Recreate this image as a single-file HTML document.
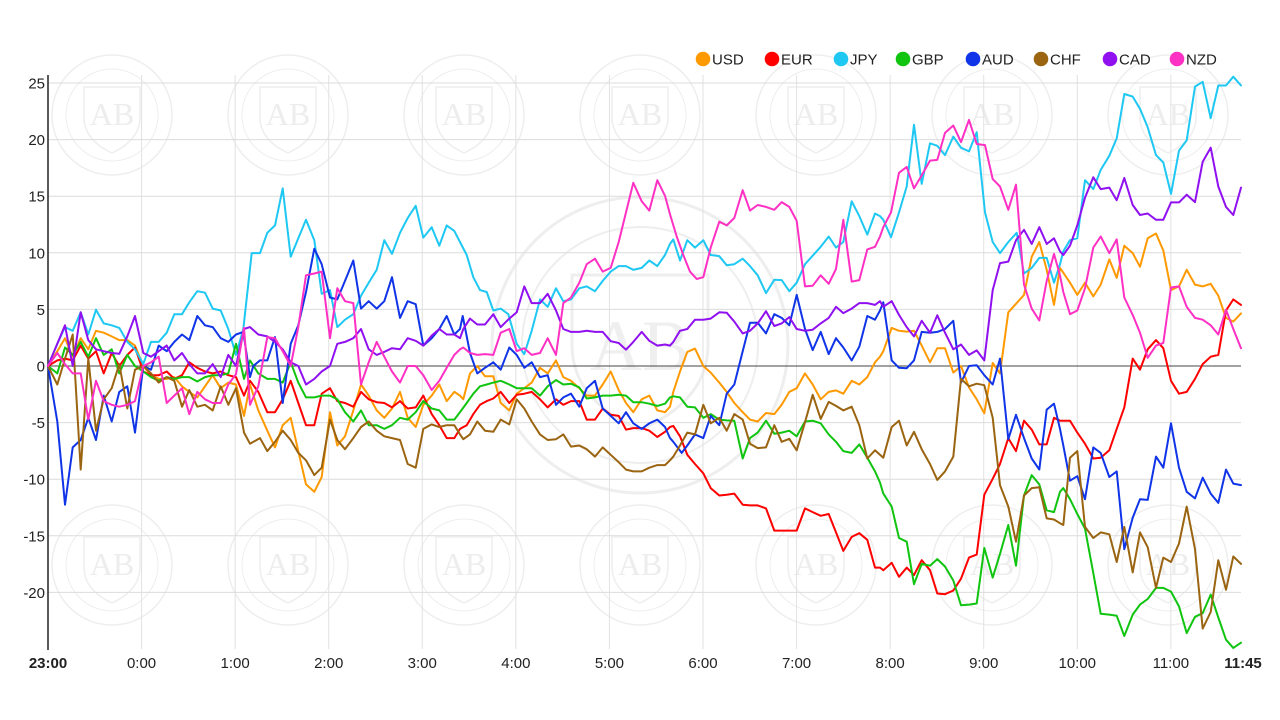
<!DOCTYPE html>
<html>
<head>
<meta charset="utf-8">
<style>
html,body{margin:0;padding:0;background:#fff;}
svg{display:block;}
text{font-family:"Liberation Sans",Arial,sans-serif;}
</style>
</head>
<body>
<svg id="c" width="1280" height="720" viewBox="0 0 1280 720" xmlns="http://www.w3.org/2000/svg">
<rect width="1280" height="720" fill="#fff"/>
<g id="wm" fill="none" stroke="#eeeeee" stroke-width="1.5"></g>
<g id="grid"></g>
<g id="series" fill="none" stroke-width="2" stroke-linejoin="round" stroke-linecap="round"></g>
<g id="labels" font-size="15" fill="#222"></g>
<g id="legend" font-size="15" fill="#222">
  <circle cx="703" cy="59" r="7.3" fill="#ff9900"/><text x="712" y="64.5">USD</text>
  <circle cx="772" cy="59" r="7.3" fill="#ff0000"/><text x="781" y="64.5">EUR</text>
  <circle cx="841" cy="59" r="7.3" fill="#1ec8f2"/><text x="850" y="64.5">JPY</text>
  <circle cx="903" cy="59" r="7.3" fill="#10c410"/><text x="912" y="64.5">GBP</text>
  <circle cx="973" cy="59" r="7.3" fill="#1034e8"/><text x="982" y="64.5">AUD</text>
  <circle cx="1041" cy="59" r="7.3" fill="#9a6410"/><text x="1050" y="64.5">CHF</text>
  <circle cx="1110" cy="59" r="7.3" fill="#9010f0"/><text x="1119" y="64.5">CAD</text>
  <circle cx="1177" cy="59" r="7.3" fill="#ff30c4"/><text x="1186" y="64.5">NZD</text>
</g>
</svg>
<script>
(function(){
var NS="http://www.w3.org/2000/svg";
function el(tag,attrs,parent,txt){var e=document.createElementNS(NS,tag);for(var k in attrs)e.setAttribute(k,attrs[k]);if(txt!==undefined)e.textContent=txt;parent.appendChild(e);return e;}
var X0=48,X1=1241,HOUR=93.57;
function yv(v){return 366-v*11.32;}
// watermarks
var wm=document.getElementById('wm');
var xs=[112,288,464,640,816,992,1168];
[115,565].forEach(function(cy){xs.forEach(function(cx){
  el('circle',{cx:cx,cy:cy,r:60},wm);
  el('circle',{cx:cx,cy:cy,r:46,'stroke-width':1},wm);
  el('path',{d:'M'+(cx-28)+' '+(cy-28)+' L'+(cx+28)+' '+(cy-28)+' L'+(cx+28)+' '+(cy+2)+' Q'+(cx+28)+' '+(cy+25)+' '+cx+' '+(cy+38)+' Q'+(cx-28)+' '+(cy+25)+' '+(cx-28)+' '+(cy+2)+' Z'},wm);
  el('text',{x:cx,y:cy+10,'text-anchor':'middle',fill:'#ededed',stroke:'none',style:'font-family:"Liberation Serif",serif;font-size:32px'},wm,'AB');
});});
el('circle',{cx:640,cy:345,r:148,'stroke-width':3},wm);
el('circle',{cx:640,cy:345,r:118,'stroke-width':2},wm);
el('path',{d:'M572 275 L708 275 L708 345 Q708 400 640 430 Q572 400 572 345 Z','stroke-width':3},wm);
el('text',{x:640,y:370,'text-anchor':'middle',fill:'#efefef',stroke:'none',style:'font-family:"Liberation Serif",serif;font-size:72px'},wm,'AB');

// grid
var g=document.getElementById('grid');
for(var k=1;k<=12;k++){var x=X0+k*HOUR;el('line',{x1:x,y1:75,x2:x,y2:649,stroke:'#e2e2e2','stroke-width':1},g);}
for(var v=25;v>=-20;v-=5){if(v===0)continue;var y=yv(v);el('line',{x1:X0,y1:y,x2:X1,y2:y,stroke:'#dcdcdc','stroke-width':1},g);}
el('line',{x1:X0,y1:366,x2:X1,y2:366,stroke:'#444','stroke-width':1},g);
el('line',{x1:X0,y1:75,x2:X0,y2:650,stroke:'#222','stroke-width':1.5},g);

// labels
var L=document.getElementById('labels');
for(var v=25;v>=-20;v-=5){el('text',{x:45,y:yv(v)+5.5,'text-anchor':'end'},L,String(v));}
var hrs=['23:00','0:00','1:00','2:00','3:00','4:00','5:00','6:00','7:00','8:00','9:00','10:00','11:00'];
hrs.forEach(function(h,i){var a={x:X0+i*HOUR,y:668,'text-anchor':'middle'};if(i===0)a['font-weight']='bold';el('text',a,L,h);});
el('text',{x:1243,y:668,'text-anchor':'middle','font-weight':'bold'},L,'11:45');

// series in zoom coords
var Z=[40,250,460,670,880,1060], LIM=[630,630,630,630,540,1000];
function Y(zy){return 70+zy/2.703;}
var S=[
['#ff9900',[
[24,800,52,760,75,725,98,775,122,725,145,755,168,705,191,710,215,720,238,730,262,730,285,745,310,800,333,825,356,835,380,835,403,830,426,855,448,870,472,885,495,855,518,825,542,860,565,845,588,850,612,935],
[0,850,25,920,52,975,75,1020,98,960,122,940,145,1030,168,1120,193,1140,215,1100,240,925,262,1015,285,990,310,920,333,850,356,880,380,920,403,940,426,915,450,870,473,940,497,965,520,905,545,880,568,850,590,895,613,870],
[0,880,10,890,30,820,52,800,75,828,100,828,122,900,148,920,170,875,193,860,215,845,240,805,263,820,288,785,310,830,333,840,358,860,380,880,405,880,428,850,452,815,476,865,498,900,520,925,545,890,568,880,592,920,615,925],
[0,910,10,870,30,815,52,762,75,753,100,800,122,818,148,845,170,870,193,900,218,925,240,945,263,950,288,927,313,930,335,905,358,870,380,860,405,820,428,850,452,890,476,870,498,866,520,875,545,840,568,850,592,830,615,790],
[0,775,10,760,35,697,57,705,80,707,102,705,125,745,150,790,172,752,195,752,220,818,243,800,267,858,290,890,313,928,338,792,360,820,385,655,408,632,432,608,455,505,478,465,500,540,522,635],
[0,535,10,548,30,575,52,608,75,575,100,612,122,580,148,512,170,562,193,475,218,495,240,532,263,455,288,442,310,488,333,595,357,585,380,540,405,580,428,585,452,578,475,610,498,670,520,680,543,658]
]],
['#ff0000',[
[24,800,52,785,75,780,98,785,122,745,145,780,168,760,191,820,215,765,238,800,262,770,285,750,310,815,333,825,356,825,380,815,403,835,426,825,448,790,472,805,495,815,518,820,542,815,565,825,588,830,612,880],
[0,840,25,870,52,925,75,925,98,890,122,840,145,900,168,960,193,960,215,875,240,860,262,895,285,900,310,910,333,870,356,890,380,898,403,900,426,912,450,895,473,915,497,912,520,880,545,930,568,960,590,995,613,995],
[0,970,20,960,40,930,60,905,80,895,100,888,122,870,148,900,170,878,193,875,215,870,240,890,263,912,288,890,310,905,333,895,358,895,380,945,405,945,428,915,452,932,476,935,498,972,520,968,545,968,568,975,592,992,615,978],
[0,965,10,962,30,990,52,1040,75,1065,100,1090,122,1130,148,1150,170,1148,193,1145,218,1175,240,1177,263,1177,288,1185,313,1245,335,1245,358,1245,380,1245,405,1185,428,1195,452,1205,476,1200,498,1250,520,1300,545,1262,568,1252,592,1270,615,1345],
[0,1345,10,1352,35,1332,57,1370,80,1345,102,1365,125,1325,150,1352,172,1415,195,1417,220,1407,243,1375,267,1318,290,1310,313,1148,338,1105,360,1065,385,995,408,1030,432,948,455,972,478,1012,500,1012,522,940],
[0,948,10,948,30,948,52,980,75,1010,100,1050,122,1048,148,1028,170,970,193,912,218,780,240,810,263,755,288,730,310,752,333,840,357,875,380,870,405,835,428,795,452,775,475,770,498,650,520,620,543,635]
]],
['#1ec8f2',[
[24,800,52,740,75,695,98,705,122,655,145,715,168,648,191,685,215,690,238,697,262,735,285,755,310,795,333,735,356,735,380,710,403,660,426,660,448,628,472,598,495,602,518,645,542,650,565,700,588,770,610,700],
[5,495,30,495,52,440,75,420,98,320,122,505,145,455,168,405,193,460,215,605,240,595,262,695,285,675,310,660,333,610,356,575,380,540,403,460,426,497,450,440,473,400,497,367,520,453,545,425,568,475,590,420,613,435],
[0,465,20,500,40,560,60,595,80,600,100,650,122,645,145,660,170,740,193,768,215,705,240,620,263,640,288,590,310,625,333,620,358,590,380,585,405,598,428,570,452,545,476,530,498,530,520,540,545,535,568,515,592,530,615,500],
[0,470,10,458,30,515,52,460,75,480,100,460,122,500,148,503,170,528,193,525,218,510,240,530,263,555,288,603,313,567,335,568,358,598,380,575,405,525,428,502,452,478,476,450,498,480,520,465,545,355,568,395,592,445,615,388],
[0,395,10,405,33,452,57,385,80,315,102,148,125,308,150,198,172,205,195,230,220,180,243,210,267,220,290,168,315,385,338,465,360,495,385,465,410,440,432,550,455,535,478,508,500,508,522,575],
[0,525,10,490,30,460,52,455,75,298,100,322,122,270,148,232,170,185,193,65,218,72,240,105,263,155,288,230,310,250,333,335,357,218,380,190,405,45,428,32,452,130,475,42,498,42,520,18,543,42]
]],
['#10c410',[
[24,800,52,820,75,750,98,770,122,735,145,775,168,725,191,770,215,755,238,820,262,770,285,800,310,815,333,830,356,840,380,830,403,835,426,830,448,830,472,842,495,830,518,825,542,825,565,820,588,740,612,835],
[0,785,25,820,52,835,75,835,98,845,122,790,145,845,168,885,193,885,215,880,240,880,262,890,285,925,310,950,333,920,356,960,380,960,403,970,426,960,450,940,473,945,497,925,520,895,545,915,568,920,590,945,613,945],
[0,925,20,900,40,875,60,855,80,850,100,845,122,840,148,850,170,860,193,860,215,860,240,880,263,855,288,838,310,850,333,848,358,858,380,888,405,885,428,880,452,880,476,878,498,880,520,898,545,898,568,902,592,908,615,902],
[0,885,10,882,30,885,52,910,75,912,100,940,122,930,148,945,170,947,193,948,218,1050,240,995,263,980,288,948,313,983,335,980,358,975,380,990,405,950,428,948,452,955,476,985,498,1005,520,1030,545,1035,568,1012,592,1048,615,1085],
[0,1115,10,1145,35,1180,57,1265,80,1275,102,1390,125,1335,150,1340,172,1322,195,1342,220,1380,243,1447,267,1445,290,1442,313,1292,338,1372,360,1308,385,1230,408,1340,432,1150,455,1095,478,1120,500,1190,522,1195],
[0,1140,10,1130,30,1160,52,1200,75,1240,100,1360,122,1470,148,1472,170,1475,193,1530,218,1472,240,1445,263,1430,288,1400,310,1400,333,1410,357,1450,380,1522,405,1478,428,1468,452,1418,475,1480,498,1540,520,1562,543,1548]
]],
['#1034e8',[
[24,800,52,950,75,1175,98,1020,122,1000,145,940,168,1000,191,880,215,950,238,870,262,855,285,980,310,800,333,810,356,745,380,760,403,735,426,715,448,730,472,665,495,690,518,695,542,725,565,735,588,715,610,708],
[0,830,10,800,30,785,52,785,75,722,98,900,122,740,145,690,168,600,193,483,215,525,240,615,262,620,285,570,310,515,333,645,356,625,380,645,403,625,426,560,450,670,473,625,497,633,520,745,545,725,568,700,590,665,613,715],
[0,700,8,665,30,765,52,820,75,805,100,790,122,810,148,750,170,770,193,805,215,790,240,830,263,825,288,905,310,885,333,875,358,910,380,860,405,840,428,915,452,935,476,955,498,925,520,955,545,970,568,955,592,945,615,965],
[0,995,10,1005,35,1035,52,1015,75,985,100,995,122,935,148,960,170,875,193,850,218,760,240,683,263,683,288,712,313,660,335,670,358,690,380,608,405,700,428,757,452,708,476,768,498,725,520,750,545,785,568,748,592,665,615,675],
[0,650,10,628,35,785,57,805,80,806,102,785,125,708,150,710,172,708,195,700,220,678,243,845,267,800,290,798,313,825,338,850,360,780,385,998,408,932,432,995,455,1050,478,1080,500,918,522,902],
[0,970,10,1015,30,1110,52,1098,75,1160,100,1020,122,1035,148,1100,170,1085,193,1295,218,1210,240,1160,263,1162,288,1045,310,1075,333,955,357,1075,380,1140,405,1158,428,1102,452,1145,475,1170,498,1080,520,1118,543,1122]
]],
['#9a6410',[
[24,800,52,850,75,780,98,715,122,1080,145,780,168,975,191,890,215,860,238,795,262,915,285,810,310,800,333,820,356,845,380,830,403,840,426,910,448,865,472,910,495,905,518,920,542,855,565,905,588,860,612,980],
[0,1010,30,995,52,1030,75,1005,98,975,122,1000,145,1035,168,1055,193,1095,215,1075,240,945,262,1000,285,1025,310,995,333,965,356,950,380,975,403,990,426,995,450,1000,473,1065,497,1075,520,970,545,958,568,965,590,960,613,960],
[0,985,10,998,30,985,52,950,75,975,100,978,122,945,148,958,170,890,193,915,215,950,240,985,263,1000,288,998,310,985,333,1018,358,1015,380,1025,405,1045,428,1020,452,1040,476,1060,498,1080,520,1085,545,1085,568,1075,592,1068,615,1068],
[0,1055,10,1045,30,1015,52,980,75,985,100,905,122,955,148,940,170,975,193,930,218,945,240,1010,263,1022,288,1020,313,960,335,1005,358,997,380,1028,405,952,428,878,452,943,476,897,498,908,520,920,545,910,568,960,592,1050,615,1028],
[0,1040,10,1048,35,965,57,948,80,1015,102,978,125,1025,150,1065,172,1108,195,1085,220,1045,243,835,267,855,290,848,313,852,338,940,360,1122,385,1180,408,1275,432,1150,455,1130,478,1128,500,1212,522,1215],
[0,1225,10,1230,30,1048,52,1030,75,1235,100,1265,122,1250,148,1255,170,1330,193,1235,218,1358,240,1250,263,1290,288,1400,310,1318,333,1330,357,1280,380,1180,405,1295,428,1510,452,1465,475,1325,498,1405,520,1315,543,1335]
]],
['#9010f0',[
[24,800,52,740,75,690,98,800,122,655,145,730,168,755,191,760,215,765,238,767,262,720,285,665,310,765,333,775,356,760,380,745,403,785,426,765,448,795,472,820,495,820,518,795,542,830,565,770,588,800,612,700],
[0,695,25,715,52,720,75,735,98,755,122,790,145,800,168,850,193,835,215,815,240,800,262,740,285,735,310,725,333,700,356,755,380,770,403,762,426,752,450,755,473,725,497,732,520,745,545,718,568,700,590,715,613,715],
[0,725,10,700,30,672,52,688,75,688,100,660,122,695,148,672,170,655,193,585,215,630,240,630,263,605,288,650,310,700,333,708,358,708,380,705,405,708,428,708,452,733,476,738,498,756,520,735,545,708,568,732,592,745,615,742],
[0,745,10,735,30,705,52,700,75,675,100,675,122,672,148,655,170,656,193,680,218,712,240,705,263,685,288,652,313,692,335,685,358,668,380,700,405,705,428,702,452,685,476,670,498,640,520,657,545,645,568,630,592,630,615,635],
[0,625,10,640,35,625,57,662,80,695,102,720,125,678,150,710,172,663,195,710,220,755,243,742,267,770,290,758,313,785,338,595,360,522,385,518,408,460,432,432,455,470,478,425,500,470,522,455],
[0,490,10,500,30,475,52,420,75,345,100,290,122,322,148,318,170,352,193,292,218,365,240,392,263,388,288,405,310,405,333,358,357,358,380,337,405,357,428,248,452,210,475,315,498,370,520,392,543,318]
]],
['#ff30c4',[
[24,800,52,765,75,795,98,820,122,820,145,945,168,840,191,895,215,905,238,910,262,905,285,895,310,800,333,790,356,775,380,900,403,880,426,860,448,930,472,870,495,890,518,900,542,900,565,850,588,822,612,697],
[0,905,25,855,52,722,75,725,98,760,122,800,145,695,168,555,193,550,215,545,240,725,262,590,285,625,310,630,333,850,356,790,380,735,403,775,426,815,450,845,473,800,497,800,520,825,545,865,568,840,590,805,613,770],
[0,755,10,750,30,765,52,770,75,768,100,770,122,710,148,700,170,760,193,752,215,770,240,765,263,725,288,770,310,630,333,615,358,575,380,525,405,510,428,545,452,535,476,465,498,385,520,305,545,355,568,380,592,298,615,340],
[0,390,20,450,40,500,60,545,80,565,100,560,122,480,148,410,170,420,193,400,218,325,240,380,263,365,288,370,313,378,335,357,358,370,380,408,405,585,428,583,452,555,476,578,498,538,520,405,545,572,568,568,592,485,615,478],
[0,450,10,425,33,385,57,278,80,262,102,320,125,285,150,245,172,243,195,170,220,150,243,195,267,135,290,200,315,203,338,295,360,315,385,378,408,310,432,580,455,645,478,677,500,570,522,497],
[0,555,10,600,30,660,52,650,75,590,100,480,122,450,148,495,170,458,193,615,218,662,240,710,263,778,288,745,310,738,333,588,357,585,380,640,405,670,428,675,452,690,475,715,498,648,520,700,543,752]
]]
];
var sg=document.getElementById('series');
S.forEach(function(s){
  var pts=[];
  s[1].forEach(function(arr,i){
    for(var k=0;k<arr.length;k+=2){
      var zx=arr[k],zy=arr[k+1];
      if(zx>=0&&zx<LIM[i]){var X=Z[i]+zx/3;if(X>X1)X=X1;pts.push([X,Y(zy)]);}
    }
  });
  pts.sort(function(a,b){return a[0]-b[0];});
  pts[0]=[48,366];
  el('polyline',{points:pts.map(function(p){return p[0].toFixed(1)+','+p[1].toFixed(1);}).join(' '),stroke:s[0]},sg);
});
})();
</script>
</body>
</html>
